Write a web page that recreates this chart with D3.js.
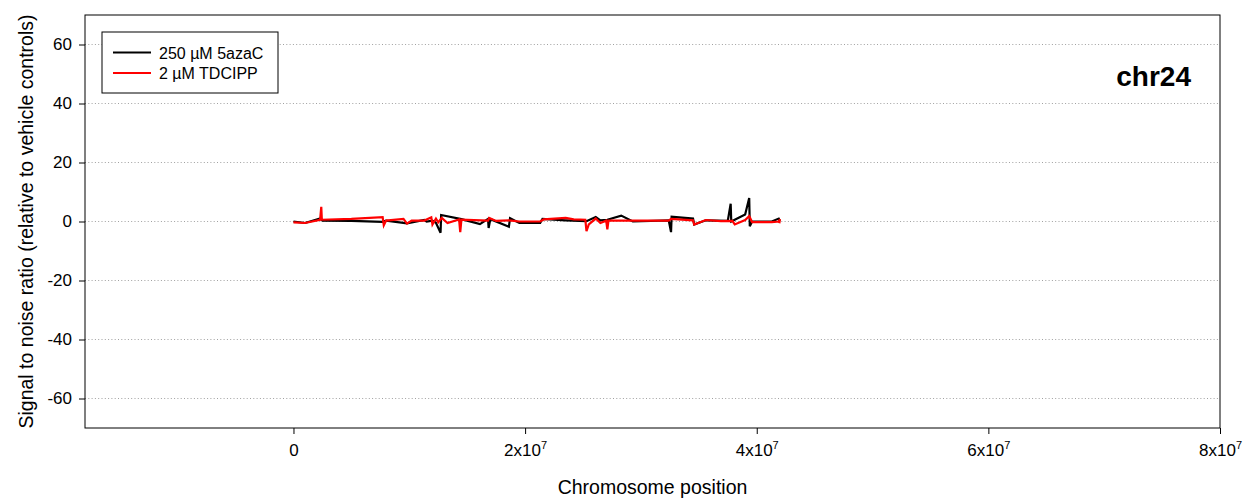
<!DOCTYPE html>
<html>
<head>
<meta charset="utf-8">
<script src="https://cdn.jsdelivr.net/npm/d3@7"></script>
<style>
  body { margin: 0; background: #fff; }
  svg { display: block; font-family: Arial, "Liberation Sans", sans-serif; }
</style>
</head>
<body>
<div id="chart"></div>
<script>
// positions in Mb, values are signal to noise ratios
var blackPos = [0, 1.0, 2.3, 2.5, 5.0, 7.7, 8.0, 9.8, 11.3, 11.5, 12.0, 12.3, 12.7, 12.75, 14.5, 16.1, 16.8, 16.85, 17.0, 18.6, 18.7, 19.5, 21.3, 21.5, 23.5, 25.3, 26.1, 26.5, 27.1, 28.3, 29.3, 32.4, 32.6, 32.65, 34.5, 34.6, 35.6, 37.5, 37.75, 37.8, 39.0, 39.35, 39.4, 39.6, 41.3, 41.9, 42.0];
var blackVal = [0, -0.5, 1.0, 0.3, 0.2, -0.1, 0.3, -0.6, 0.5, 0.0, 0.3, -0.4, -3.8, 2.2, 0.8, -0.9, 0.9, -2.2, 0.8, -1.8, 1.1, -0.5, -0.5, 0.9, 0.4, 0.1, 1.5, 0.4, 0.6, 2.0, 0.0, 0.4, -3.6, 1.6, 1.0, -1.0, 0.4, 0.2, 6.0, 0.0, 2.4, 8.0, -1.6, 0.0, 0.0, 1.0, 0.2];

var redPos = [0, 1.0, 2.3, 2.4, 2.45, 5.0, 7.7, 7.8, 8.0, 9.5, 9.8, 10.2, 11.3, 11.9, 12.0, 12.3, 12.5, 12.8, 13.3, 14.3, 14.4, 14.5, 16.8, 16.9, 17.5, 18.6, 19.5, 21.3, 21.6, 23.5, 24.2, 25.2, 25.3, 25.5, 26.1, 26.5, 27.0, 27.1, 27.2, 32.4, 32.6, 34.5, 34.6, 35.6, 36.9, 37.9, 38.1, 39.0, 39.35, 39.6, 41.3, 41.9, 42.0, 41.95];
var redVal = [-0.3, -0.5, 0.6, 5.0, 0.6, 0.9, 1.5, -1.3, 0.3, 0.9, -0.7, 0.3, 0.3, 1.4, -1.0, 1.0, -0.3, 1.2, -0.5, 0.7, -3.6, 0.6, 0.3, 1.2, 0.2, 0.4, 0.0, 0.0, 0.7, 1.2, 0.7, 0.6, -3.3, -1.0, 1.0, -0.5, 0.3, -2.7, 0.3, 0.3, 0.9, 0.4, -1.0, 0.5, 0.1, 0.2, -1.0, 0.5, 1.8, -0.2, -0.2, 0.0, 0.8, -0.6];

var xTicks = [0, 2e7, 4e7, 6e7, 8e7];
var yTicks = [-60, -40, -20, 0, 20, 40, 60];
var seriesNames = ["250 \u00b5M 5azaC", "2 \u00b5M TDCIPP"];
var seriesColors = ["#000000", "#ff0000"];

var W = 1246, H = 498;
var plot = { left: 85, right: 1220, top: 15, bottom: 428 };

var svg = d3.select("#chart").append("svg")
    .attr("width", W)
    .attr("height", H);

var x = d3.scaleLinear().domain([-1.8e7, 8e7]).range([plot.left, plot.right]);
var y = d3.scaleLinear().domain([-70, 70]).range([plot.bottom, plot.top]);

// grid
svg.append("g").selectAll("line")
    .data(yTicks)
    .enter().append("line")
    .attr("x1", plot.left).attr("x2", plot.right)
    .attr("y1", d => y(d)).attr("y2", d => y(d))
    .attr("stroke", "#a0a0a0")
    .attr("stroke-width", 1)
    .attr("stroke-dasharray", "1,2.3");

// y axis (plain hyphen for negatives, like the original)
var yAxis = svg.append("g")
    .attr("transform", "translate(" + plot.left + ",0)")
    .call(d3.axisLeft(y).tickValues(yTicks).tickSize(6).tickPadding(7).tickFormat(d => String(d)));
yAxis.select(".domain").remove();
yAxis.attr("font-family", null);
yAxis.selectAll("text").attr("font-size", 17).attr("fill", "#000");

// x axis
var xAxis = svg.append("g")
    .attr("transform", "translate(0," + plot.bottom + ")")
    .call(d3.axisBottom(x).tickValues(xTicks).tickSize(6).tickPadding(0).tickFormat(""));
xAxis.select(".domain").remove();
xAxis.attr("font-family", null);
xAxis.selectAll(".tick").each(function(d){
    var t = d3.select(this).append("text")
        .attr("y", 28)
        .attr("text-anchor", "middle")
        .attr("font-size", 17)
        .attr("fill", "#000");
    if(d === 0){
        t.text("0");
    } else {
        t.append("tspan").text((d / 1e7) + "x10");
        t.append("tspan").attr("dy", -7).attr("font-size", 11).text("7");
    }
});

// series
svg.append("clipPath").attr("id", "plotclip")
    .append("rect")
    .attr("x", plot.left).attr("y", plot.top)
    .attr("width", plot.right - plot.left).attr("height", plot.bottom - plot.top);

var line = d3.line()
    .x(d => x(d[0] * 1e6))
    .y(d => y(d[1]));

var series = [
    d3.zip(blackPos, blackVal),
    d3.zip(redPos, redVal)
];

svg.append("g").attr("clip-path", "url(#plotclip)")
    .selectAll("path")
    .data(series)
    .enter().append("path")
    .attr("d", line)
    .attr("fill", "none")
    .attr("stroke", (d, i) => seriesColors[i])
    .attr("stroke-width", 2.2)
    .attr("stroke-linejoin", "miter");

// frame
svg.append("rect")
    .attr("x", plot.left).attr("y", plot.top)
    .attr("width", plot.right - plot.left).attr("height", plot.bottom - plot.top)
    .attr("fill", "none")
    .attr("stroke", "#000")
    .attr("stroke-width", 1);

// legend
var lg = svg.append("g");
lg.append("rect")
    .attr("x", 102).attr("y", 32)
    .attr("width", 176).attr("height", 61)
    .attr("fill", "#fff")
    .attr("stroke", "#000")
    .attr("stroke-width", 1);
seriesNames.forEach(function(name, i){
    var yy = 52.5 + i * 20.5;
    lg.append("line")
        .attr("x1", 113).attr("x2", 151)
        .attr("y1", yy).attr("y2", yy)
        .attr("stroke", seriesColors[i])
        .attr("stroke-width", 2);
    lg.append("text")
        .attr("x", 159).attr("y", yy + 6)
        .attr("font-size", 16)
        .attr("fill", "#000")
        .text(name);
});

// chromosome label
svg.append("text")
    .attr("x", 1191).attr("y", 86)
    .attr("text-anchor", "end")
    .attr("font-size", 28)
    .attr("font-weight", "bold")
    .text("chr24");

// axis titles
svg.append("text")
    .attr("x", (plot.left + plot.right) / 2).attr("y", 494)
    .attr("text-anchor", "middle")
    .attr("font-size", 19.5)
    .text("Chromosome position");

svg.append("text")
    .attr("transform", "translate(33," + ((plot.top + plot.bottom) / 2) + ") rotate(-90)")
    .attr("text-anchor", "middle")
    .attr("font-size", 19.5)
    .text("Signal to noise ratio (relative to vehicle controls)");
</script>
</body>
</html>
